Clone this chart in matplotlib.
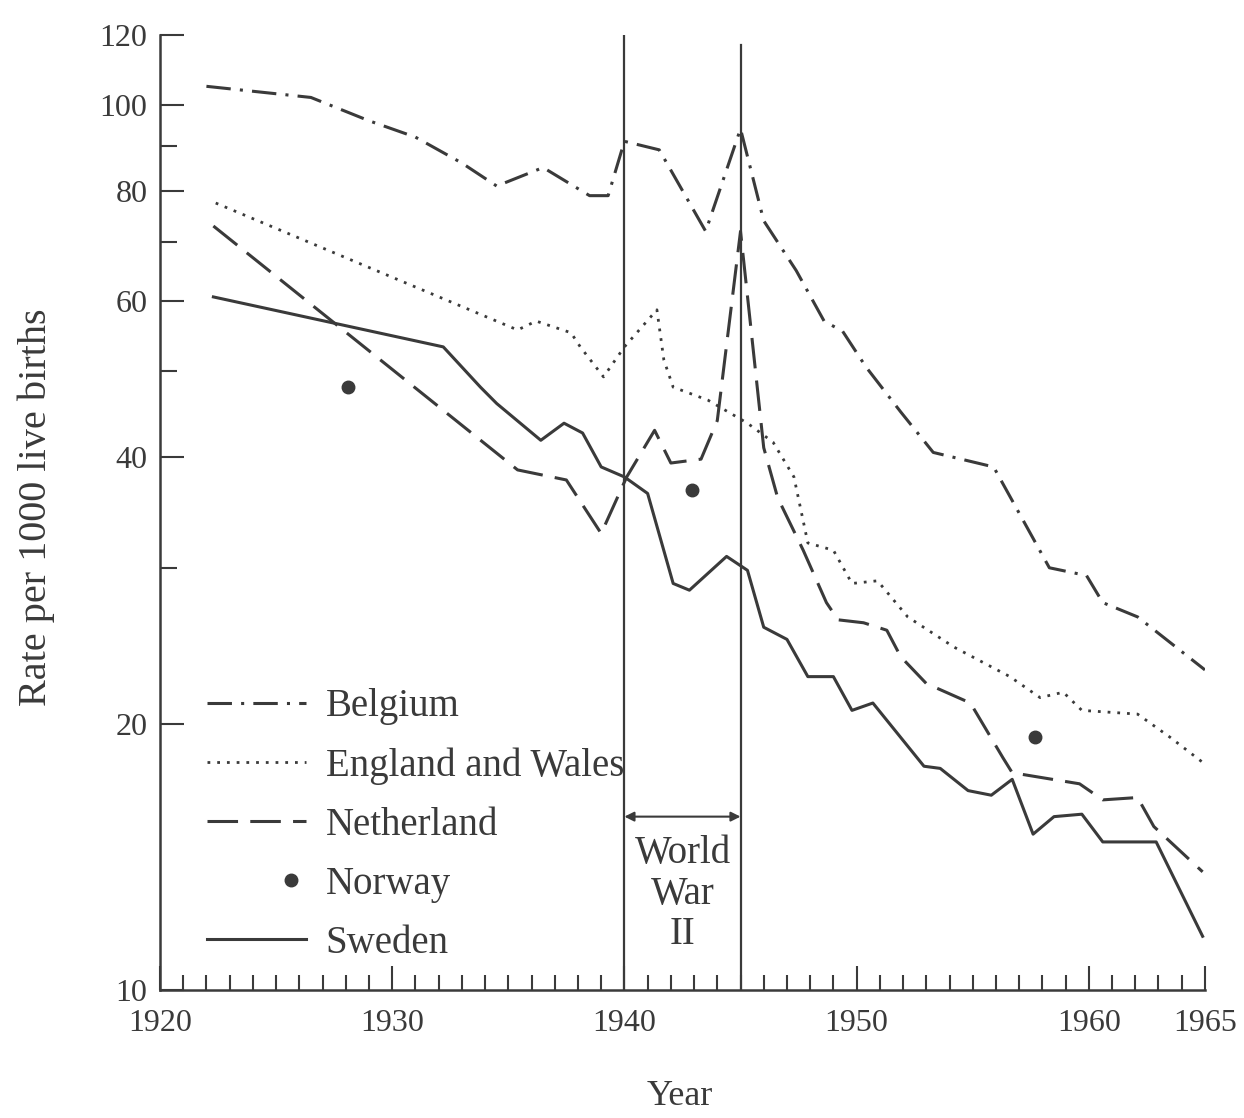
import matplotlib
matplotlib.use("Agg")
import matplotlib.pyplot as plt
from matplotlib.ticker import FixedLocator, NullFormatter, FixedFormatter
from matplotlib.legend_handler import HandlerBase
from matplotlib.lines import Line2D

# ---------------- data ----------------
belgium_years = [1922, 1926.5, 1929, 1931, 1933, 1934.5, 1936.5, 1938.5, 1939.3, 1940,
                 1941.5, 1943.5, 1945, 1946, 1947.4, 1948.6, 1949.4, 1950.4, 1951.9,
                 1953.3, 1955.9, 1958.3, 1959.9, 1960.6, 1962.1, 1965]
belgium = [105, 102, 96, 92, 86, 81, 85, 79, 79, 91,
           89, 72, 94, 74, 65, 57, 55.5, 50.6, 45,
           40.5, 39, 30, 29.4, 27.4, 26.4, 23]

england_years = [1922.4, 1935.4, 1936.2, 1937.7, 1938.1, 1939.1, 1940, 1941.4, 1941.7,
                 1942.1, 1943.6, 1945.3, 1946.4, 1947.3, 1947.9, 1949, 1949.8, 1950.9,
                 1952.2, 1954.2, 1956.6, 1957.9, 1958.9, 1959.7, 1962.1, 1963.5, 1965]
england = [77.5, 55.7, 57, 55.3, 53.3, 49.3, 53.3, 58.7, 51.5,
           48, 46.4, 43.7, 41.6, 38, 32, 31.4, 28.8, 29,
           26.4, 24.4, 22.6, 21.4, 21.7, 20.7, 20.5, 19.3, 18]

netherland_years = [1922.3, 1935.4, 1937.5, 1939, 1940.1, 1941.3, 1942, 1943.3, 1944,
                    1945, 1946, 1946.6, 1947.7, 1948.7, 1949.2, 1950.3, 1951.3, 1951.9,
                    1953, 1954.9, 1956.3, 1956.7, 1959.6, 1960.6, 1962.1, 1962.8, 1964.9]
netherland = [73, 38.7, 37.7, 32.8, 38, 42.9, 39.4, 39.8, 44,
              72, 41, 36, 31.4, 27.4, 26.2, 26, 25.5, 23.8,
              22.2, 21.1, 18.3, 17.6, 17.1, 16.4, 16.5, 15.3, 13.6]

norway_years = [1928.1, 1942.9, 1957.7]
norway = [48, 36.7, 19.3]

sweden_years = [1922.3, 1932.2, 1933.8, 1934.5, 1936.4, 1937.4, 1938.2, 1939, 1940,
                1941, 1942.1, 1942.8, 1944.4, 1945.3, 1946, 1947, 1947.9, 1949,
                1949.8, 1950.7, 1952.9, 1953.6, 1954.8, 1955.8, 1956.7, 1957.6,
                1958.5, 1959.7, 1960.6, 1962.9, 1964.9]
sweden = [60.7, 53.3, 48, 46, 41.8, 43.7, 42.6, 39, 38,
          36.4, 28.8, 28.3, 30.9, 29.8, 25.7, 24.9, 22.6, 22.6,
          20.7, 21.1, 17.9, 17.8, 16.8, 16.6, 17.3, 15.0,
          15.7, 15.8, 14.7, 14.7, 11.5]

series_labels = ["Belgium", "England and Wales", "Netherland", "Norway", "Sweden"]
y_major = [10, 20, 40, 60, 80, 100, 120]
y_minor = [30, 50, 70, 90]
x_major = [1920, 1930, 1940, 1950, 1960, 1965]
x_minor = list(range(1920, 1966))
war_start, war_end = 1940, 1945
war_text = "World\nWar\nII"

# ---------------- style ----------------
plt.rcParams['font.family'] = ['Liberation Serif', 'DejaVu Serif']
INK = '#3a3a3a'

fig = plt.figure(figsize=(12.44, 11.18), dpi=100)
ax = fig.add_axes([0.1286, 0.1145, 0.84, 0.8542])

h_bel, = ax.plot(belgium_years, belgium, color=INK, lw=2.2,
                 linestyle=(0, (8, 3, 1, 3)), label=series_labels[0])
h_eng, = ax.plot(england_years, england, color=INK, lw=2.0,
                 linestyle=(0, (1, 2.5)), label=series_labels[1])
h_net, = ax.plot(netherland_years, netherland, color=INK, lw=2.2,
                 linestyle=(0, (10, 4)), label=series_labels[2])
h_nor, = ax.plot(norway_years, norway, color=INK, linestyle='none', marker='o',
                 markersize=9, label=series_labels[3])
h_swe, = ax.plot(sweden_years, sweden, color=INK, lw=2.2, label=series_labels[4])

ax.set_yscale('log')
ax.set_ylim(10, 120)
ax.set_xlim(1920, 1965)

ax.yaxis.set_major_locator(FixedLocator(y_major))
ax.yaxis.set_major_formatter(FixedFormatter([str(v) for v in y_major]))
ax.yaxis.set_minor_locator(FixedLocator(y_minor))
ax.yaxis.set_minor_formatter(NullFormatter())
ax.xaxis.set_major_locator(FixedLocator(x_major))
ax.xaxis.set_major_formatter(FixedFormatter([str(v) for v in x_major]))
ax.xaxis.set_minor_locator(FixedLocator(x_minor))

ax.tick_params(axis='both', which='both', direction='in', colors=INK,
               labelcolor=INK, labelsize=23, width=1.5)
ax.tick_params(axis='y', which='major', length=17, pad=9)
ax.tick_params(axis='y', which='minor', length=12)
ax.tick_params(axis='x', which='major', length=17, pad=14)
ax.tick_params(axis='x', which='minor', length=11)

for side in ('top', 'right'):
    ax.spines[side].set_visible(False)
for side in ('left', 'bottom'):
    ax.spines[side].set_color(INK)
    ax.spines[side].set_linewidth(1.8)

ax.set_ylabel("Rate per 1000 live births", fontsize=29, color=INK)
ax.yaxis.set_label_coords(-0.100, 0.506)
ax.set_xlabel("Year", fontsize=26, color=INK)
ax.xaxis.set_label_coords(0.4976, -0.094)

# War period markers
ax.axvline(war_start, color=INK, lw=1.6)
ax.axvline(war_end, color=INK, lw=1.6, ymax=0.99)
ax.annotate('', xy=(war_start, 15.7), xytext=(war_end, 15.7),
            arrowprops=dict(arrowstyle='<|-|>', color=INK, lw=1.5,
                            mutation_scale=14, shrinkA=0, shrinkB=0))
ax.text((war_start + war_end) / 2, 14.95, war_text, ha='center', va='top',
        fontsize=28, color=INK, linespacing=1.12)


class DotRight(HandlerBase):
    def create_artists(self, legend, orig_handle, xdescent, ydescent,
                       width, height, fontsize, trans):
        ln = Line2D([-xdescent + width * 0.85], [height / 2 - ydescent],
                    marker='o', linestyle='none', color=INK, markersize=9)
        ln.set_transform(trans)
        return [ln]


leg = ax.legend(handles=[h_bel, h_eng, h_net, h_nor, h_swe],
                loc='upper left', bbox_to_anchor=(0.045, 0.3157),
                frameon=False, fontsize=28, handlelength=2.55,
                handletextpad=0.5, labelspacing=0.565, borderpad=0,
                borderaxespad=0, handler_map={h_nor: DotRight()})
for t in leg.get_texts():
    t.set_color(INK)

fig.savefig("out.png", dpi=100)
